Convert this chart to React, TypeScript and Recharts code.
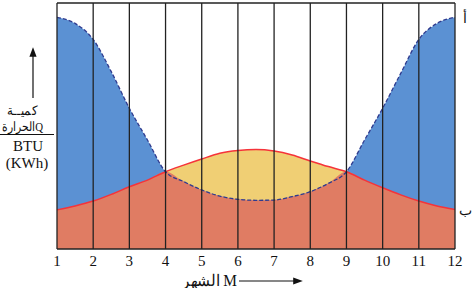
import { ComposedChart, Area, Line, XAxis, YAxis, ReferenceLine } from "recharts";

const months = [1, 1.5, 2, 2.5, 3, 3.5, 4, 4.5, 5, 5.5, 6, 6.5, 7, 7.5, 8, 8.5, 9, 9.5, 10, 10.5, 11, 11.5, 12];
// curve A: heating demand (dashed blue)
const demand = [94.2, 91.7, 85.2, 72.1, 57.2, 44.3, 31.4, 27.4, 24.0, 21.5, 20.2, 19.8, 19.9, 21.3, 23.3, 26.7, 31.4, 44.3, 57.2, 71.4, 85.2, 91.7, 94.2];
// curve B: solar supply (red)
const supply = [15.9, 17.5, 19.5, 22.2, 25.3, 28.0, 31.4, 34.1, 36.6, 38.9, 40.0, 40.4, 39.8, 38.2, 35.8, 33.5, 31.4, 28.0, 24.9, 22.0, 19.5, 17.5, 16.1];
const monthTicks = [1, 2, 3, 4, 5, 6, 7, 8, 9, 10, 11, 12];

const data = months.map((m, i) => ({
  month: m,
  demand: demand[i],
  supply: supply[i],
  covered: Math.min(demand[i], supply[i]),
}));

const BLUE = "#5b91d3";
const YELLOW = "#f0cf74";
const SALMON = "#e07c63";
const RED = "#f5333a";
const NAVY = "#2f3b8f";
const serif = "Liberation Serif, DejaVu Serif, serif";
const txt = { fontFamily: serif };

export default function App() {
  return (
    <div style={{ position: "absolute", left: 0, top: 0, width: 472, height: 288, background: "#fff", fontFamily: serif }}>
      <ComposedChart width={472} height={288} data={data} margin={{ top: 3, right: 17, left: 57, bottom: 9 }}>
        <XAxis
          dataKey="month"
          type="number"
          domain={[1, 12]}
          ticks={monthTicks}
          height={30}
          tickLine={false}
          tickSize={4}
          axisLine={{ stroke: "#222", strokeWidth: 1.5 }}
          tick={{ fill: "#111", fontSize: 15, style: txt }}
        />
        <YAxis hide domain={[0, 100]} />
        <Area type="monotone" dataKey="supply" fill={YELLOW} fillOpacity={1} stroke="none" isAnimationActive={false} />
        <Area type="monotone" dataKey="demand" fill={BLUE} fillOpacity={1} stroke="none" isAnimationActive={false} />
        <Area type="monotone" dataKey="covered" fill={SALMON} fillOpacity={1} stroke="none" isAnimationActive={false} />
        <Line type="monotone" dataKey="supply" stroke={RED} strokeWidth={1.5} dot={false} isAnimationActive={false} />
        <Line type="monotone" dataKey="demand" stroke={NAVY} strokeWidth={1.3} strokeDasharray="4 2" dot={false} isAnimationActive={false} />
        {monthTicks.map((m) => (
          <ReferenceLine key={m} x={m} stroke="#222" strokeWidth={1.3} />
        ))}
        <ReferenceLine y={100} stroke="#222" strokeWidth={1.3} />
      </ComposedChart>

      <svg width={472} height={288} style={{ position: "absolute", left: 0, top: 0, pointerEvents: "none" }}>
        <defs>
          <marker id="arrowHead" markerWidth="8" markerHeight="8" refX="4" refY="4" orient="auto">
            <path d="M0,1 L8,4 L0,7 Z" fill="#111" />
          </marker>
        </defs>
        {/* y axis label */}
        <line x1={33} y1={98} x2={33} y2={52} stroke="#111" strokeWidth={1.2} markerEnd="url(#arrowHead)" />
        <text x={7} y={115} textLength={30} lengthAdjust="spacingAndGlyphs" fontSize={13} style={txt} fill="#111">كميــة</text>
        <text x={2} y={131} textLength={41} lengthAdjust="spacingAndGlyphs" fontSize={13} style={txt} fill="#111">الحرارةQ</text>
        <line x1={0} y1={134.5} x2={54} y2={134.5} stroke="#111" strokeWidth={1} />
        <text x={28} y={151} textAnchor="middle" fontSize={15} style={txt} fill="#111">BTU</text>
        <text x={27} y={168} textAnchor="middle" fontSize={15} style={txt} fill="#111">(KWh)</text>
        {/* curve labels */}
        <text x={465} y={23} textAnchor="middle" fontSize={14} style={txt} fill="#111">أ</text>
        <text x={465} y={215} textAnchor="middle" fontSize={14} style={txt} fill="#111">ب</text>
        {/* x axis label */}
        <text x={182} y={286} textLength={55} lengthAdjust="spacingAndGlyphs" fontSize={16} style={txt} fill="#111">الشهر M</text>
        <line x1={239} y1={281} x2={298} y2={281} stroke="#111" strokeWidth={1.2} markerEnd="url(#arrowHead)" />
      </svg>
    </div>
  );
}
